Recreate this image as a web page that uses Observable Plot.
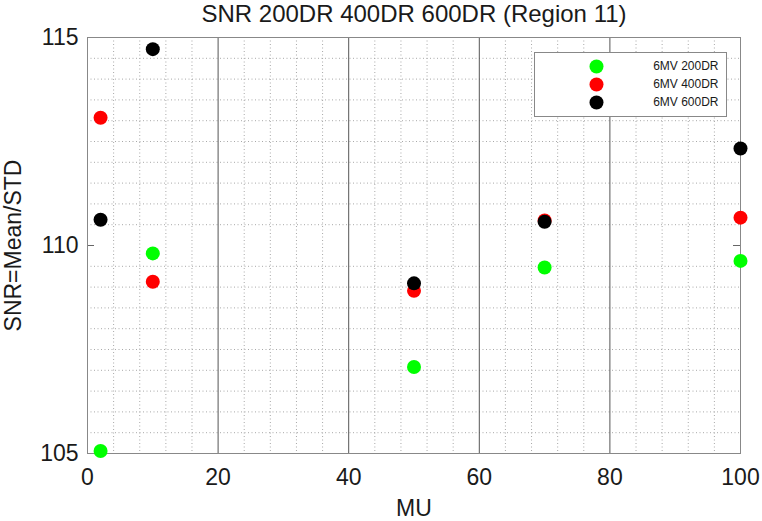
<!DOCTYPE html>
<html><head><meta charset="utf-8">
<script src="https://cdn.jsdelivr.net/npm/d3@7"></script>
<script src="https://cdn.jsdelivr.net/npm/@observablehq/plot@0.6"></script>
<style>body{margin:0;background:#fff}</style>
</head><body><div id="chart"></div>
<script>
const mu = [2, 10, 50, 70, 100];
const snr200 = [105.06, 109.81, 107.08, 109.47, 109.63];
const snr400 = [113.07, 109.13, 108.91, 110.60, 110.67];
const snr600 = [110.62, 114.72, 109.09, 110.57, 112.33];
const seriesNames = ["6MV 200DR", "6MV 400DR", "6MV 600DR"];
const seriesColors = ["#00ff00", "#ff0000", "#000000"];
const xTicks = [0, 20, 40, 60, 80, 100];
const yTicks = [105, 110, 115];
const titleText = "SNR 200DR 400DR 600DR (Region 11)";
const xLabel = "MU";
const yLabel = "SNR=Mean/STD";

const seriesValues = [snr200, snr400, snr600];
const seriesData = seriesValues.map(vals => vals.map((v, i) => ({mu: mu[i], snr: v})));

const xMinor = d3.range(0, 101, 4).filter(v => v % 20 !== 0);
const yMinor = d3.range(0, 21).map(i => 105 + i * 0.5).filter(v => v % 5 !== 0);
const xMajorInner = xTicks.slice(1, -1);
const yMajorInner = yTicks.slice(1, -1);

const font = "'Liberation Sans', Arial, Helvetica, sans-serif";
const textColor = "#1a1a1a";

const legendMarks = seriesNames.flatMap((name, i) => [
  Plot.dot([name], {frameAnchor: "top-right", dx: -144, dy: 29 + 18 * i, r: 7, fill: seriesColors[i], stroke: "none"}),
  Plot.text([name], {text: d => d, frameAnchor: "top-right", lineAnchor: "middle", dx: -22, dy: 29 + 18 * i, textAnchor: "end", fontSize: 12, fill: textColor})
]);

const chart = Plot.plot({
  width: 762,
  height: 521,
  marginLeft: 87,
  marginRight: 22,
  marginTop: 37,
  marginBottom: 68,
  style: {fontFamily: font, background: "#fff", color: textColor},
  x: {domain: [0, 100]},
  y: {domain: [105, 115]},
  marks: [
    Plot.ruleX(xMinor, {stroke: "#a8a8a8", strokeDasharray: "1,2.5", strokeWidth: 1}),
    Plot.ruleY(yMinor, {stroke: "#a8a8a8", strokeDasharray: "1,2.5", strokeWidth: 1}),
    Plot.ruleX(xMajorInner, {stroke: "#555", strokeWidth: 1}),
    Plot.tickY(yMajorInner, {y: d => d, stroke: "#666", insetRight: 646}),
    Plot.tickY(yMajorInner, {y: d => d, stroke: "#666", insetLeft: 646}),
    Plot.frame({stroke: "#888", strokeWidth: 1}),
    ...seriesData.map((data, i) => Plot.dot(data, {x: "mu", y: "snr", r: 7, fill: seriesColors[i], stroke: "none"})),
    Plot.frame({fill: "#fff", stroke: "#888", insetLeft: 447, insetRight: 14, insetTop: 15, insetBottom: 337}),
    ...legendMarks,
    Plot.axisX({ticks: xTicks, tickSize: 0, tickPadding: 15, fontSize: 23, label: null, tickFormat: d => String(d)}),
    Plot.axisY({ticks: yTicks, tickSize: 0, tickPadding: 9, fontSize: 23, label: null, tickFormat: d => String(d)}),
    Plot.text([xLabel], {text: d => d, frameAnchor: "bottom", lineAnchor: "middle", textAnchor: "middle", dy: 55, fontSize: 23, fill: textColor}),
    Plot.text([yLabel], {text: d => d, frameAnchor: "left", lineAnchor: "middle", textAnchor: "middle", rotate: -90, dx: -74, fontSize: 23, fill: textColor}),
    Plot.text([titleText], {text: d => d, frameAnchor: "top", lineAnchor: "middle", textAnchor: "middle", dy: -23, fontSize: 24, fill: textColor})
  ]
});
document.getElementById("chart").appendChild(chart);
</script>
</body></html>
